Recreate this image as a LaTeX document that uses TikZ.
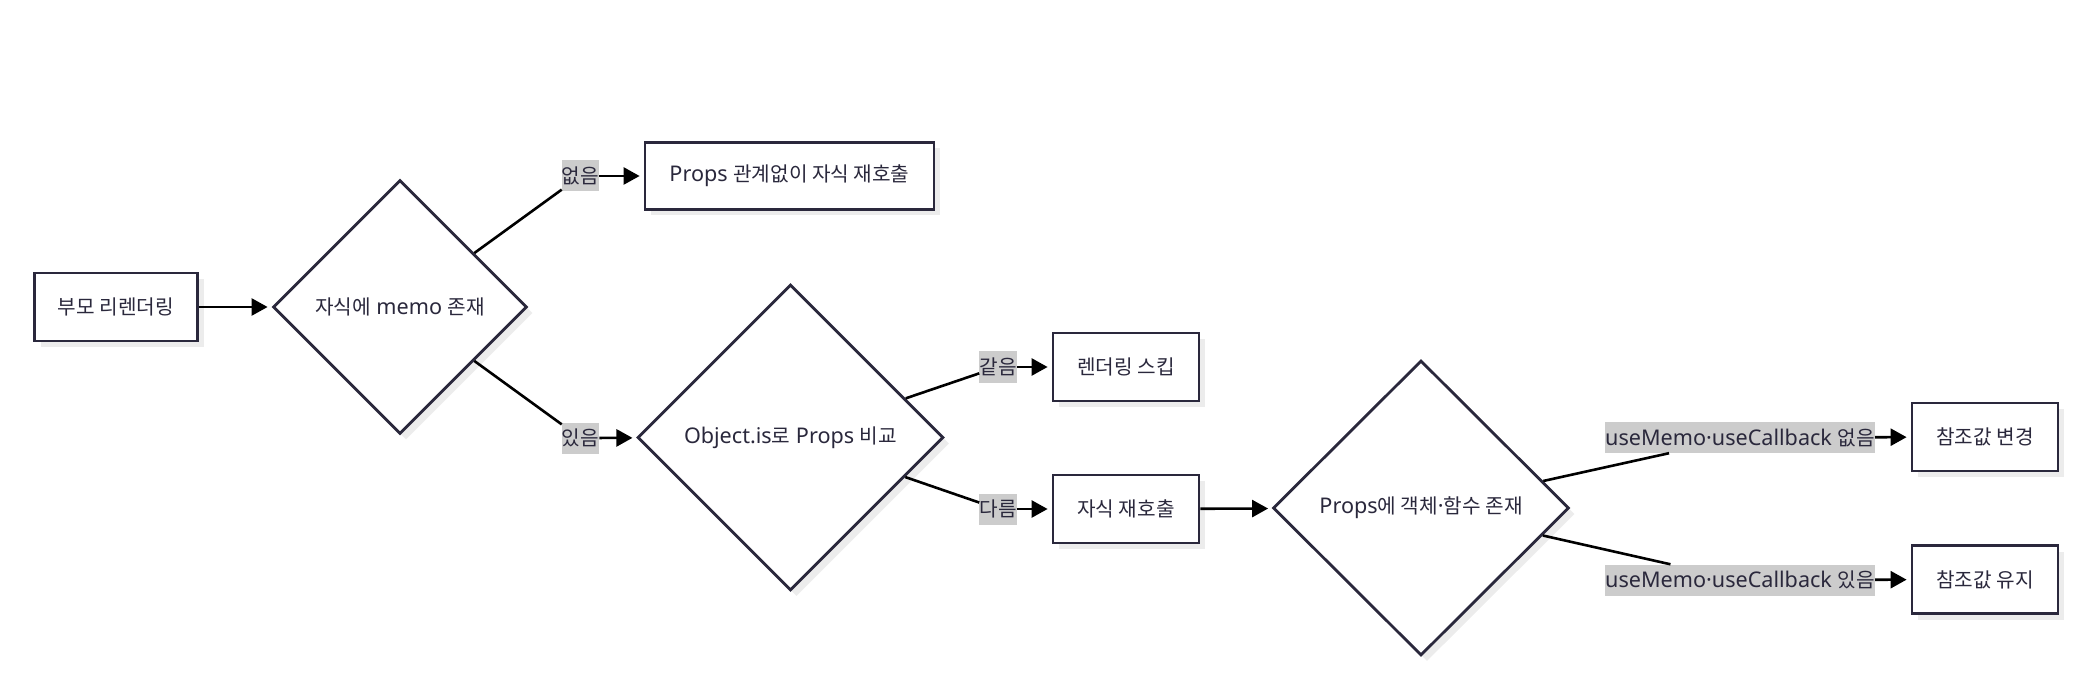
\documentclass[tikz,border=0pt]{standalone}
\usepackage{fontspec}
\setmainfont{Noto Sans}
\newfontfamily\kr[Scale=0.935]{Noto Sans CJK KR}
\usetikzlibrary{shapes.geometric,arrows.meta,shadows}
\definecolor{ink}{RGB}{42,40,60}
\definecolor{lblbg}{RGB}{204,204,204}
\definecolor{shade}{RGB}{236,236,236}
\begin{document}
\begin{tikzpicture}[x=1pt,y=-1pt,
  nodeshadow/.style={drop shadow={shadow xshift=6pt,shadow yshift=-6pt,fill=shade,opacity=1}},
  box/.style={draw=ink, line width=2.8pt, fill=white, text=ink, inner sep=0pt,
    minimum height=68pt, font=\fontsize{21.6}{25}\selectfont, nodeshadow},
  dec/.style={diamond, aspect=1, draw=ink, line width=2.8pt, fill=white, text=ink,
    inner sep=0pt, font=\fontsize{21.6}{25}\selectfont, nodeshadow},
  lbl/.style={fill=lblbg, text=ink, inner sep=0pt, minimum height=31pt,
    font=\fontsize{21.6}{25}\selectfont},
  flow/.style={line width=2.6pt, black},
  arr/.style={flow, -{Triangle[length=16pt,width=17pt]}, shorten >=4pt}]
\useasboundingbox (0,0) rectangle (2074,692);

% nodes
\node[box, minimum width=163pt] (b1) at (116,307) {\kr 부모 리렌더링};
\node[dec, minimum width=254pt, minimum height=254pt] (d1) at (400,307) {{\kr 자식에} memo {\kr 존재}};
\node[box, minimum width=289pt, minimum height=67pt] (b2) at (789.5,176) {Props {\kr 관계없이 자식 재호출}};
\node[dec, minimum width=306pt, minimum height=306pt] (d2) at (790.5,437.5) {Object.is{\kr 로} Props {\kr 비교}};
\node[box, minimum width=146pt] (b3) at (1126,367) {\kr 렌더링 스킵};
\node[box, minimum width=146pt] (b4) at (1126,509) {\kr 자식 재호출};
\node[dec, minimum width=296pt, minimum height=295pt] (d3) at (1421,508) {Props{\kr 에 객체}·{\kr 함수 존재}};
\node[box, minimum width=146pt] (b5) at (1985,437) {\kr 참조값 변경};
\node[box, minimum width=146pt] (b6) at (1985,579.5) {\kr 참조값 유지};

% edge labels
\node[lbl] (l1) at (580.5,176) {\kr 없음};
\node[lbl] (l2) at (580.5,438) {\kr 있음};
\node[lbl] (l3) at (998,367) {\kr 같음};
\node[lbl] (l4) at (998,509) {\kr 다름};
\node[lbl] (l5) at (1740,437.5) {useMemo·useCallback {\kr 없음}};
\node[lbl] (l6) at (1740,580) {useMemo·useCallback {\kr 있음}};

% connectors
\draw[arr] (b1) -- (d1);
\draw[flow] (d1) -- (l1);
\draw[arr] (l1) -- (b2);
\draw[flow] (d1) -- (l2);
\draw[arr] (l2) -- (d2);
\draw[flow] (d2) -- (l3);
\draw[arr] (l3) -- (b3);
\draw[flow] (d2) -- (l4);
\draw[arr] (l4) -- (b4);
\draw[arr] (b4) -- (d3);
\draw[flow] (d3) -- (l5);
\draw[arr] (l5) -- (b5);
\draw[flow] (d3) -- (l6);
\draw[arr] (l6) -- (b6);
\end{tikzpicture}
\end{document}
